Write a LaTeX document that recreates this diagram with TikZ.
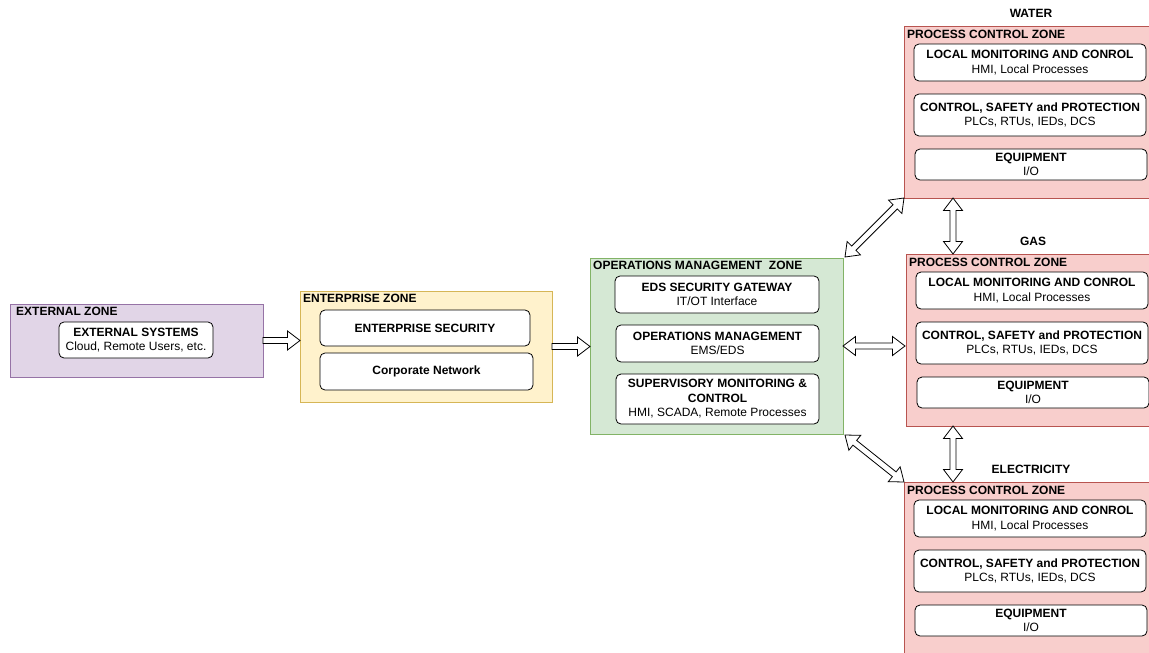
\documentclass[tikz,border=0pt]{standalone}
\usepackage{fontspec}
\setmainfont{Liberation Sans}
\usetikzlibrary{calc}

\definecolor{extfill}{HTML}{E1D5E7}
\definecolor{extline}{HTML}{9673A6}
\definecolor{entfill}{HTML}{FFF2CC}
\definecolor{entline}{HTML}{D6B656}
\definecolor{opsfill}{HTML}{D5E8D4}
\definecolor{opsline}{HTML}{82B366}
\definecolor{pczfill}{HTML}{F8CECC}
\definecolor{pczline}{HTML}{B85450}

\newcommand{\diagfont}{\fontsize{12}{14.5}\selectfont}

\tikzset{
  zone/.style={draw, rectangle, line width=0.8pt, inner sep=0pt, outer sep=0pt, anchor=north west},
  zonetitle/.style={anchor=north west, inner sep=0pt, font=\diagfont\bfseries},
  layer/.style={draw=black, fill=white, line width=0.8pt, rounded corners=5pt, inner sep=0pt,
    outer sep=0pt, anchor=north west, align=center},
  blockarrow/.style={draw=black, fill=white, line width=0.8pt, line join=miter},
}

% hollow block arrows between two points
\newcommand{\singlearrow}[2]{%
  \coordinate (hb) at ($(#2)!12.5pt!(#1)$);
  \draw[blockarrow] ($(#1)!3pt!90:(#2)$) -- ($(hb)!3pt!90:(#2)$) -- ($(hb)!9.5pt!90:(#2)$)
    -- (#2) -- ($(hb)!9.5pt!-90:(#2)$) -- ($(hb)!3pt!-90:(#2)$) -- ($(#1)!3pt!-90:(#2)$) -- cycle;
}
\newcommand{\doublearrow}[2]{%
  \coordinate (ha) at ($(#1)!12.5pt!(#2)$);
  \coordinate (hb) at ($(#2)!12.5pt!(#1)$);
  \draw[blockarrow] (#1) -- ($(ha)!9.5pt!90:(#2)$) -- ($(ha)!3pt!90:(#2)$) -- ($(hb)!3pt!90:(#2)$)
    -- ($(hb)!9.5pt!90:(#2)$) -- (#2) -- ($(hb)!9.5pt!-90:(#2)$) -- ($(hb)!3pt!-90:(#2)$)
    -- ($(ha)!3pt!-90:(#2)$) -- ($(ha)!9.5pt!-90:(#2)$) -- cycle;
}

\begin{document}
\begin{tikzpicture}[x=1pt,y=-1pt,font=\diagfont]
  \useasboundingbox (0,0) rectangle (1149,653);

  % external zone
  \node[zone, fill=extfill, draw=extline, minimum width=253, minimum height=73] (ext) at (10,304) {};
  \node[zonetitle] (ext-title) at ($(ext.north west)+(6,3)$) {EXTERNAL ZONE};
  \node[layer, minimum width=154, minimum height=36] (extsys) at (59,322)
    {\textbf{EXTERNAL SYSTEMS}\\Cloud, Remote Users, etc.};

  % enterprise zone
  \node[zone, fill=entfill, draw=entline, minimum width=252, minimum height=111] (ent) at (300,291) {};
  \node[zonetitle] (ent-title) at ($(ent.north west)+(3,3)$) {ENTERPRISE ZONE};
  \node[layer, minimum width=210, minimum height=36] (entsec) at (320,310) {\textbf{ENTERPRISE SECURITY}};
  \node[layer, minimum width=213, minimum height=37] (corp) at (320,353) {\textbf{Corporate Network}};

  % operations management zone
  \node[zone, fill=opsfill, draw=opsline, minimum width=253, minimum height=176] (ops) at (590,258) {};
  \node[zonetitle] (ops-title) at ($(ops.north west)+(3,3)$) {OPERATIONS MANAGEMENT~ ZONE};
  \node[layer, minimum width=204, minimum height=37] (eds) at (615,276)
    {\textbf{EDS SECURITY GATEWAY}\\IT/OT Interface};
  \node[layer, minimum width=203, minimum height=37] (opsm) at (616,325)
    {\textbf{OPERATIONS MANAGEMENT}\\EMS/EDS};
  \node[layer, minimum width=203, minimum height=50] (sup) at (616,374)
    {\textbf{SUPERVISORY MONITORING \&}\\\textbf{CONTROL}\\HMI, SCADA, Remote Processes};

  % process control zones
  \foreach \zn/\zlab/\zx/\zy in {water/WATER/904/26,gas/GAS/906/254,elec/ELECTRICITY/904/482} {
    \node[zone, fill=pczfill, draw=pczline, minimum width=250, minimum height=172] (\zn) at (\zx,\zy) {};
    \node[font=\diagfont\bfseries, inner sep=0pt] (\zn-lab) at ($(\zn.north west)+(127,-13)$) {\zlab};
    \node[zonetitle] (\zn-title) at ($(\zn.north west)+(3,4)$) {PROCESS CONTROL ZONE};
    \node[layer, minimum width=232, minimum height=37] (\zn-local) at ($(\zn.north west)+(10,18)$)
      {\textbf{LOCAL MONITORING AND CONROL}\\HMI, Local Processes};
    \node[layer, minimum width=232, minimum height=42] (\zn-csp) at ($(\zn.north west)+(10,68)$)
      {\textbf{CONTROL, SAFETY and PROTECTION}\\PLCs, RTUs, IEDs, DCS};
    \node[layer, minimum width=232, minimum height=31] (\zn-equip) at ($(\zn.north west)+(11,123)$)
      {\textbf{EQUIPMENT}\\I/O};
  }

  % connectors
  \singlearrow{ext.east}{ent.west |- ext.east}
  \singlearrow{ent.east}{ops.west |- ent.east}
  \doublearrow{ops.east}{$(gas.west |- ops.east)+(-1,0)$}
  \doublearrow{$(ops.north east)+(2,-1)$}{water.south west}
  \doublearrow{$(ops.south east)+(2,1)$}{elec.north west}
  \coordinate (wg1) at ($(water.south west)+(49,0)$);
  \coordinate (wg2) at ($(gas.north west)+(47,0)$);
  \coordinate (ge1) at ($(gas.south west)+(47,0)$);
  \coordinate (ge2) at ($(elec.north west)+(49,0)$);
  \doublearrow{wg1}{wg2}
  \doublearrow{ge1}{ge2}
\end{tikzpicture}
\end{document}
